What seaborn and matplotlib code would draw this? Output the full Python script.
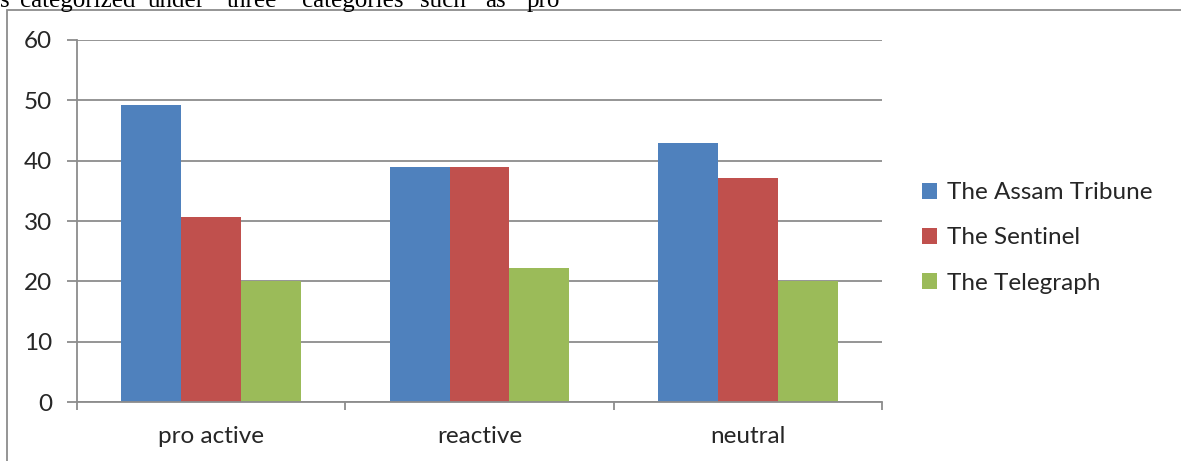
import matplotlib
matplotlib.use("Agg")
import matplotlib.pyplot as plt
import seaborn as sns
import pandas as pd
from matplotlib.patches import Rectangle

categories = ["pro active", "reactive", "neutral"]
series_names = ["The Assam Tribune", "The Sentinel", "The Telegraph"]
assam_tribune = [49.3, 38.9, 43.0]
sentinel = [30.7, 38.9, 37.1]
telegraph = [20.0, 22.2, 20.0]
colors = ["#4F81BD", "#C0504D", "#9BBB59"]
y_ticks = [0, 10, 20, 30, 40, 50, 60]
top_words = ["s", "categorized", "under", "three", "categories", "such", "as", "pro"]
top_word_x = [0, 20, 148, 227, 302, 420, 485, 527]

rows = []
for name, vals in zip(series_names, [assam_tribune, sentinel, telegraph]):
    for c, v in zip(categories, vals):
        rows.append({"category": c, "series": name, "value": v})
df = pd.DataFrame(rows)

sns.set_theme(style="white")
plt.rcParams["font.family"] = ["Lato", "DejaVu Sans"]

W, H = 1181, 461
FS = 17.5
fig = plt.figure(figsize=(W / 100, H / 100), dpi=100)
ax = fig.add_axes([77 / W, (H - 402) / H, (882 - 77) / W, (402 - 40) / H])

sns.barplot(data=df, x="category", y="value", hue="series", order=categories,
            hue_order=series_names, palette=colors, width=0.67, gap=0,
            saturation=1, ax=ax, legend=True, edgecolor="none", linewidth=0)

ax.set_ylim(0, 60)
ax.set_xlim(-0.5, 2.5)
ax.set_yticks(y_ticks)
ax.set_yticklabels([str(t) for t in y_ticks], fontsize=FS)
ax.yaxis.grid(True, color="#8c8c8c", linewidth=1.3)
ax.set_axisbelow(True)
ax.set_xlabel("")
ax.set_ylabel("")
for s in ["top", "right"]:
    ax.spines[s].set_visible(False)
for s in ["left", "bottom"]:
    ax.spines[s].set_color("#8c8c8c")
    ax.spines[s].set_linewidth(1.3)

# category labels at centers, ticks at boundaries
ax.set_xticks([-0.5, 0.5, 1.5, 2.5])
ax.set_xticklabels([])
ax.set_xticks([0, 1, 2], minor=True)
ax.set_xticklabels(categories, minor=True, fontsize=FS)
ax.tick_params(axis="x", which="major", length=6, width=1.3, color="#8c8c8c", direction="out", bottom=True)
ax.tick_params(axis="x", which="minor", length=0, pad=17)
ax.tick_params(axis="y", length=7, width=1.3, color="#8c8c8c", direction="out", left=True, pad=11)

handles, labels = ax.get_legend_handles_labels()
ax.legend(handles, labels, loc="center left", bbox_to_anchor=(922 / W, (H - 238) / H),
          bbox_transform=fig.transFigure, frameon=False, fontsize=FS,
          handlelength=0.62, handleheight=0.62, handletextpad=0.4, labelspacing=1.0,
          borderaxespad=0, borderpad=0)

# outer frame (bottom edge outside the picture)
fig.patches.append(Rectangle((7 / W, -0.05), 1.2, (H - 10) / H + 0.05, transform=fig.transFigure,
                             fill=False, edgecolor="#8c8c8c", linewidth=1.3))

for w, x in zip(top_words, top_word_x):
    fig.text(x / W, (H - 7) / H, w, fontsize=18, family=["Liberation Serif", "DejaVu Serif"],
             ha="left", va="baseline", color="black")

fig.savefig("out.png", dpi=100)
